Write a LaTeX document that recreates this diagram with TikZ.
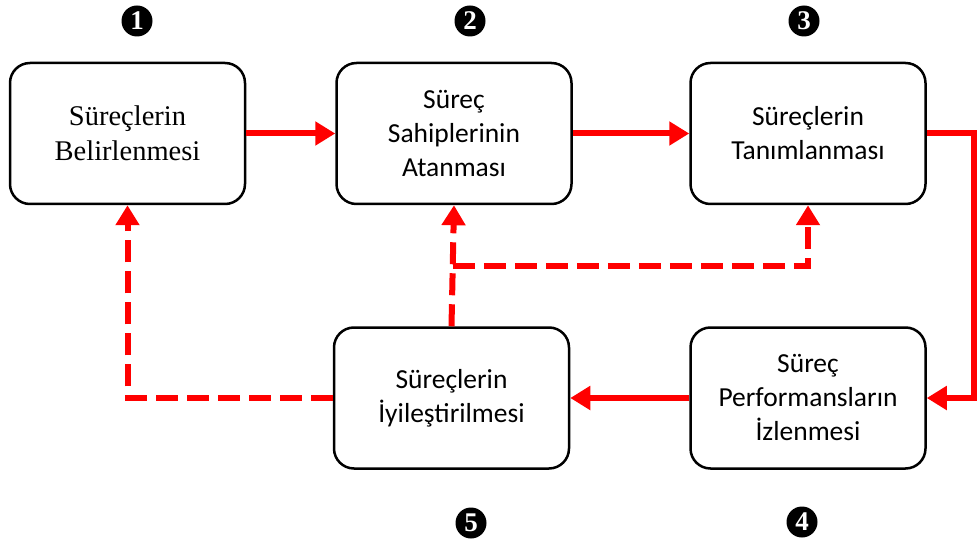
\documentclass[tikz,border=0pt]{standalone}
\usepackage{fontspec}
\setmainfont{Carlito}
\newfontfamily\timesfont{Liberation Serif}
\usepackage{xcolor}
\usepackage{tikz}
\usetikzlibrary{
    shapes,
    positioning,
    calc
}
\usetikzlibrary{arrows.meta}
\tikzset{process/.style={
    draw,
    fill=white,
    line width=2.5pt,
    minimum height=141pt,
    minimum width=235pt,
    text width=215pt,
    align=center,
    rounded corners=20pt,
    font=\fontsize{27.5}{34}\selectfont,
}}
\tikzset{firstprocess/.style={
    process,
    font=\timesfont\fontsize{28.5}{35}\selectfont,
}}
\tikzset{badge/.style={
    circle,
    fill=black,
    text=white,
    inner sep=0pt,
    minimum size=31pt,
    font=\timesfont\bfseries\fontsize{27}{27}\selectfont,
}}
\tikzset{flow/.style={
    -{Triangle[length=20pt,width=23pt]},
    line width=6pt,
    color=red,
}}
\tikzset{feedback/.style={
    flow,
    dash pattern=on 22pt off 9pt,
}}

\begin{document}
\begin{tikzpicture}[
                x=1pt, y=-1pt,
                node distance=0.0cm
        ]
            \useasboundingbox (0,0) rectangle (977,548);

            \node[firstprocess] (define) at (127.5,133.5) {Süreçlerin\\Belirlenmesi};
            \node[process, right=89pt of define] (owners) {Süreç\\Sahiplerinin\\Atanması};
            \node[process, right=116.5pt of owners] (describe) {Süreçlerin\\Tanımlanması};
            \node[process, below=121pt of describe] (monitor) {Süreç\\Performansların\\İzlenmesi};
            \node[process, left=119pt of monitor] (improve) {Süreçlerin\\İyileştirilmesi};

            \node[badge] (num1) at (137,21) {1};
            \node[badge] (num2) at (470,21) {2};
            \node[badge] (num3) at (804,21) {3};
            \node[badge] (num4) at (802,522) {4};
            \node[badge] (num5) at (471,523) {5};

            \draw[flow] (define) -- (owners);
            \draw[flow] (owners) -- (describe);
            \draw[flow] (describe.east) -- ++(47,0) |- (monitor.east);
            \draw[flow] (monitor) -- (improve);

            \coordinate (split) at ($(improve.north)!0.5!(owners.south)$);
            \draw[feedback] (improve.west) -| (define.south);
            \draw[feedback] (improve.north) -- (owners.south);
            \draw[feedback] (split) -| (describe.south);

        \end{tikzpicture}
\end{document}
